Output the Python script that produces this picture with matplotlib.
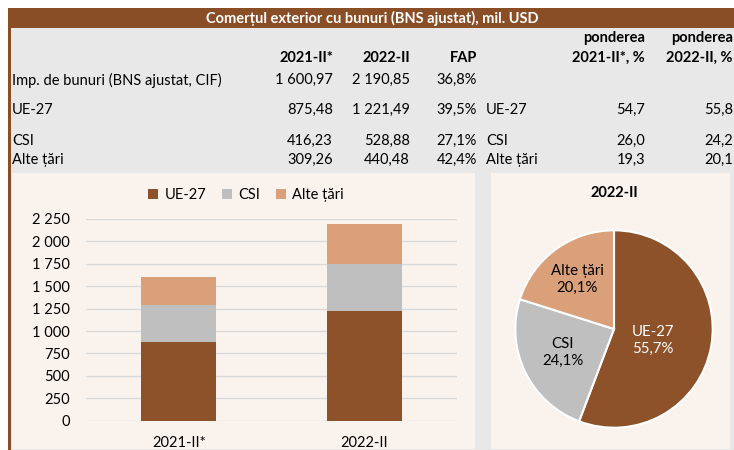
import matplotlib
matplotlib.use("Agg")
import matplotlib.pyplot as plt
from matplotlib.patches import Rectangle
from matplotlib.ticker import FuncFormatter

# data
periods = ["2021-II*", "2022-II"]
regions = ["UE-27", "CSI", "Alte țări"]
ue27 = [875.48, 1221.49]
csi = [416.23, 528.88]
alte = [309.26, 440.48]
totals = [1600.97, 2190.85]
fap = ["36,8%", "39,5%", "27,1%", "42,4%"]
share_2021 = ["54,7", "26,0", "19,3"]
share_2022 = ["55,8", "24,2", "20,1"]
pie_values = [55.7, 24.1, 20.1]
pie_labels = ["UE-27\n55,7%", "CSI\n24,1%", "Alte țări\n20,1%"]
title = "Comerțul exterior cu bunuri (BNS ajustat), mil. USD"

BROWN = "#8d5229"
GRAY = "#bfbfbf"
PEACH = "#d9a07a"
TABLE_BG = "#e8e8e8"
PANEL_BG = "#f9f2ed"
HEADER = "#8a4e26"
FS = 10.5

plt.rcParams["font.family"] = ["Lato", "DejaVu Sans"]

W, H = 734, 450
fig = plt.figure(figsize=(W / 100, H / 100), dpi=100)
fig.patch.set_facecolor("white")


def box(x0, y0, x1, y1, color):
    # pixel coords, y measured from top
    fig.add_artist(Rectangle((x0 / W, 1 - y1 / H), (x1 - x0) / W, (y1 - y0) / H,
                             transform=fig.transFigure, facecolor=color,
                             edgecolor="none", zorder=0))


def txt(x, y, s, **kw):
    fig.text(x / W, 1 - y / H, s, va="center", fontsize=FS, **kw)


# background blocks
box(8, 8, W, H, TABLE_BG)
box(8, 8, W, 28, HEADER)
box(8, 8, 10.5, H, HEADER)
box(12, 173, 475, H - 1, PANEL_BG)
box(491, 173, 730, H - 1, PANEL_BG)

txt(372, 18, title, color="white", fontweight="bold", ha="center")

# table header
txt(645, 38, "ponderea", fontweight="bold", ha="right")
txt(733, 38, "ponderea", fontweight="bold", ha="right")
txt(333, 58, periods[0], fontweight="bold", ha="right")
txt(410, 58, periods[1], fontweight="bold", ha="right")
txt(477, 58, "FAP", fontweight="bold", ha="right")
txt(645, 58, "2021-II*, %", fontweight="bold", ha="right")
txt(733, 58, "2022-II, %", fontweight="bold", ha="right")


def num(v):
    return f"{v:,.2f}".replace(",", " ").replace(".", ",")


rows_y = [80, 110, 141, 160]
row_names = ["Imp. de bunuri (BNS ajustat, CIF)"] + regions
v2021 = [totals[0], ue27[0], csi[0], alte[0]]
v2022 = [totals[1], ue27[1], csi[1], alte[1]]
for i, y in enumerate(rows_y):
    txt(12, y, row_names[i], ha="left")
    txt(333, y, num(v2021[i]), ha="right")
    txt(410, y, num(v2022[i]), ha="right")
    txt(477, y, fap[i], ha="right")
    if i > 0:
        txt(486, y, regions[i - 1], ha="left")
        txt(645, y, share_2021[i - 1], ha="right")
        txt(733, y, share_2022[i - 1], ha="right")

# stacked bars
ax = fig.add_axes([86 / W, 1 - 420.7 / H, 371 / W, (420.7 - 219) / H])
ax.set_facecolor("none")
x = range(len(periods))
bw = 0.404
ax.bar(x, ue27, bw, color=BROWN, label=regions[0], zorder=3)
ax.bar(x, csi, bw, bottom=ue27, color=GRAY, label=regions[1], zorder=3)
bottom2 = [a + b for a, b in zip(ue27, csi)]
ax.bar(x, alte, bw, bottom=bottom2, color=PEACH, label=regions[2], zorder=3)
ax.set_xlim(-0.5, 1.5)
ax.set_ylim(0, 2250)
ax.set_yticks(range(0, 2251, 250))
ax.yaxis.set_major_formatter(FuncFormatter(lambda v, p: f"{int(v):,}".replace(",", " ")))
ax.set_xticks(list(x))
ax.set_xticklabels(periods)
ax.grid(axis="y", color="#d9d9d9", linewidth=0.9, zorder=0)
for s in ax.spines.values():
    s.set_visible(False)
ax.tick_params(length=0, labelsize=FS)
ax.tick_params(axis="y", pad=11.5)
ax.tick_params(axis="x", pad=11)
ax.legend(loc="center", bbox_to_anchor=(246 / W, 1 - 195 / H),
          bbox_transform=fig.transFigure, ncol=3, frameon=False, fontsize=FS,
          handlelength=0.7, handleheight=0.7, handletextpad=0.4, columnspacing=1.1)

# pie
r = 98.7
cx, cy = 614, 329
pax = fig.add_axes([(cx - r) / W, 1 - (cy + r) / H, 2 * r / W, 2 * r / H])
wedges, texts = pax.pie(pie_values, colors=[BROWN, GRAY, PEACH], startangle=90,
                        counterclock=False, labels=pie_labels, labeldistance=0.5,
                        wedgeprops=dict(edgecolor="white", linewidth=1.5),
                        textprops=dict(fontsize=10.8, ha="center", va="center",
                                       linespacing=1.25))
texts[0].set_color("white")
label_pos = [(0.395, -0.12), (-0.517, -0.238), (-0.375, 0.50)]
for t, p in zip(texts, label_pos):
    t.set_position(p)
pax.set_xlim(-1, 1)
pax.set_ylim(-1, 1)
pax.set_aspect("equal")
txt(614, 193, "2022-II", fontweight="bold", ha="center")

fig.savefig("out.png", dpi=100)
